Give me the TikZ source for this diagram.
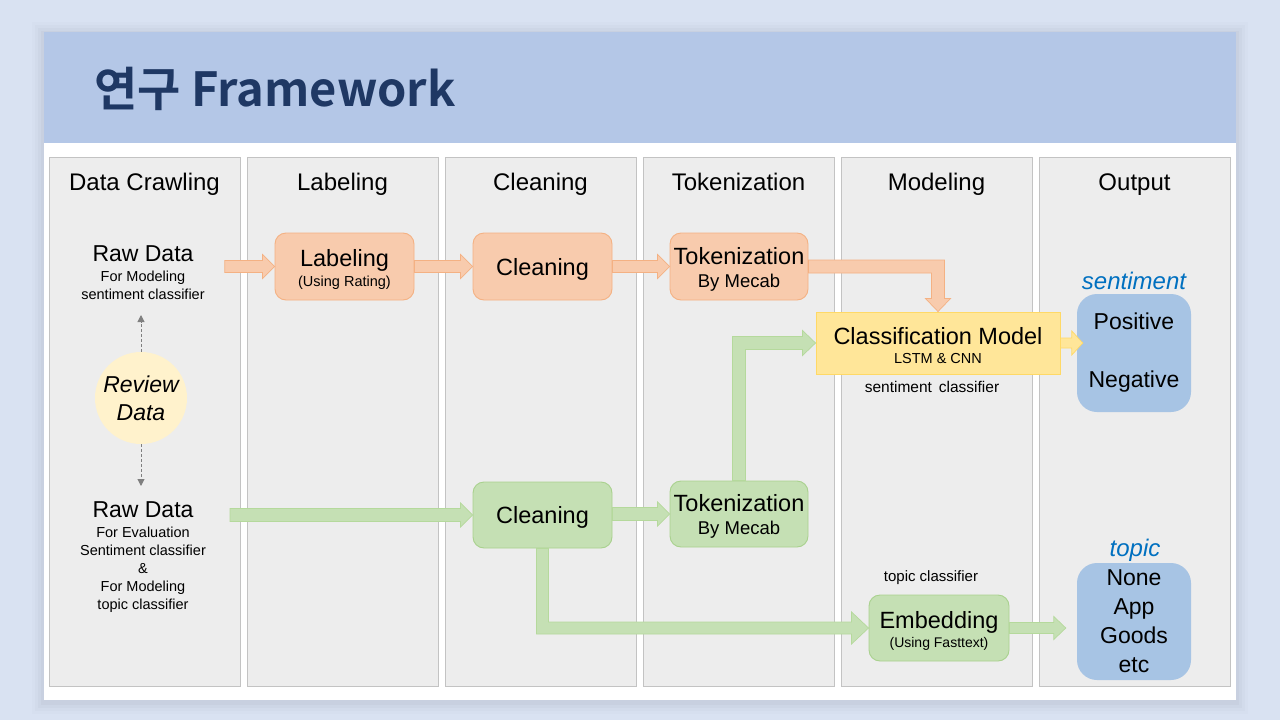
\documentclass[tikz,border=0pt]{standalone}
\usepackage{fontspec}
\setmainfont{Liberation Sans}
\newfontfamily\krfont{Noto Sans CJK KR}[BoldFont={Noto Sans CJK KR Bold}]
\usetikzlibrary{calc,arrows.meta}

\definecolor{bgblue}{HTML}{D9E2F2}
\definecolor{band}{HTML}{B4C7E7}
\definecolor{titleblue}{HTML}{1F3864}
\definecolor{panelfill}{HTML}{EDEDED}
\definecolor{panelline}{HTML}{C3C3C3}
\definecolor{orfill}{HTML}{F8CBAD}
\definecolor{orline}{HTML}{F4B183}
\definecolor{grfill}{HTML}{C5E0B4}
\definecolor{grline}{HTML}{A9D18E}
\definecolor{grarrline}{HTML}{B5D99C}
\definecolor{yefill}{HTML}{FFE699}
\definecolor{yeline}{HTML}{FFD966}
\definecolor{blfill}{HTML}{A7C4E4}
\definecolor{revfill}{HTML}{FFF2CC}
\definecolor{lblue}{HTML}{0070C0}
\definecolor{dashgray}{HTML}{7F7F7F}

% straight block arrow pointing right: style, start, tip, shaft half-width, head half-width, head length
\newcommand\blockright[6]{%
  \path[#1] let \p1=#2, \p2=#3 in
    (\x1,\y2+#4) -- (\x2-#6,\y2+#4) -- (\x2-#6,\y2+#5) -- (\x2,\y2)
    -- (\x2-#6,\y2-#5) -- (\x2-#6,\y2-#4) -- (\x1,\y2-#4) -- cycle;}

\begin{document}
\begin{tikzpicture}[x=1pt,y=-1pt,
  panel/.style={draw=panelline, fill=panelfill, line width=0.9pt},
  hdr/.style={anchor=base, font=\fontsize{24}{28}\selectfont, inner sep=0pt},
  boxtext/.style={align=center, inner sep=0pt, font=\fontsize{23.5}{20}\selectfont, yshift=-2.5pt},
  obox/.style={draw=orline, fill=orfill, rounded corners=11pt, line width=0.9pt,
    minimum width=139pt, minimum height=67pt},
  gbox/.style={draw=grline, fill=grfill, rounded corners=11pt, line width=0.9pt,
    minimum width=139pt, minimum height=66pt},
  ybox/.style={draw=yeline, fill=yefill, line width=0.9pt,
    minimum width=244pt, minimum height=62pt},
  bbox/.style={align=center, inner sep=0pt, fill=blfill, rounded corners=20pt,
    minimum width=114pt, font=\fontsize{23}{29}\selectfont},
  orarrow/.style={fill=orfill, draw=orline, line width=0.7pt},
  grarrow/.style={fill=grfill, draw=grarrline, line width=0.7pt},
  yearrow/.style={fill=yefill, draw=yeline, line width=0.7pt},
  dasharrow/.style={draw=dashgray, line width=1pt, dash pattern=on 3pt off 2pt,
    -{Triangle[width=7pt,length=7pt]}},
  small/.style={font=\fontsize{14.5}{18}\selectfont, inner sep=0pt},
]
\useasboundingbox (0,0) rectangle (1280,720);

% backdrop, soft slide shadow and slide
\fill[bgblue] (0,0) rectangle (1280,720);
\foreach \d/\o in {12/0.012,9/0.016,6/0.02,3/0.025}
  \fill[black,opacity=\o] (44-\d,32-\d+2) rectangle (1236+\d,700+\d+2);
\fill[white] (44,32) rectangle (1236,700);
\fill[band] (44,32) rectangle (1236,143);
\node[anchor=base west, inner sep=0pt, text=titleblue,
  font=\krfont\bfseries\fontsize{47}{52}\selectfont] (title) at (94,106) {연구 Framework};

% six stage columns
\foreach \i in {0,...,5}
  \draw[panel] (49+198*\i,157) rectangle (240+198*\i,686);

\node[hdr] (h1) at (144.5,190) {Data Crawling};
\node[hdr] (h2) at (342.5,190) {Labeling};
\node[hdr] (h3) at (540.5,190) {Cleaning};
\node[hdr] (h4) at (738.5,190) {Tokenization};
\node[hdr] (h5) at (936.5,190) {Modeling};
\node[hdr] (h6) at (1134.5,190) {Output};

% data crawling column
\node[small, align=center] (rd1) at (143,273)
  {{\fontsize{23}{28}\selectfont Raw Data}\\[2pt]For Modeling\\sentiment classifier};
\node[circle, fill=revfill, minimum size=92pt, inner sep=0pt, align=center,
  font=\itshape\fontsize{23}{28}\selectfont] (rev) at (141,398) {Review\\Data};
\node[small, align=center] (rd2) at (143,557)
  {{\fontsize{23}{28}\selectfont Raw Data}\\[2pt]For Evaluation\\Sentiment classifier\\\&\\For Modeling\\topic classifier};
\coordinate (upend) at (141,315);
\coordinate (dnend) at (141,486);
\draw[dasharrow] (rev.north) -- (upend);
\draw[dasharrow] (rev.south) -- (dnend);

% sentiment path (orange)
\node[obox] (lab) at (344.5,266.5) {};
\node[boxtext] (labt) at (lab) {Labeling\\{\fontsize{14.5}{20}\selectfont (Using Rating)}};
\node[obox] (cln1) at (542.5,266.5) {};
\node[boxtext] (cln1t) at (cln1) {Cleaning};
\node[obox, minimum width=138pt] (tok1) at (739,266.5) {};
\node[boxtext] (tok1t) at (tok1) {Tokenization\\[3pt]{\fontsize{18.5}{20}\selectfont By Mecab}};
\node[ybox] (cls) at (938,343) {};
\node[boxtext] (clst) at (cls) {Classification Model\\[-1pt]{\fontsize{14.5}{20}\selectfont LSTM \& CNN}};
\node[font=\fontsize{15.5}{18}\selectfont, inner sep=0pt] (sc) at (932,387) {sentiment\, classifier};

% topic path (green)
\node[gbox] (cln2) at (542.5,515) {};
\node[boxtext] (cln2t) at (cln2) {Cleaning};
\node[gbox, minimum width=138pt] (tok2) at (739,514) {};
\node[boxtext] (tok2t) at (tok2) {Tokenization\\[3pt]{\fontsize{18.5}{20}\selectfont By Mecab}};
\node[gbox, minimum width=140pt] (emb) at (939,628) {};
\node[boxtext] (embt) at (emb) {Embedding\\[-1pt]{\fontsize{14}{20}\selectfont (Using Fasttext)}};
\node[font=\fontsize{15}{18}\selectfont, inner sep=0pt] (tc) at (931,578) {topic classifier};

% outputs
\node[font=\itshape\fontsize{24}{28}\selectfont, text=lblue, inner sep=0pt] (sl) at (1134,281) {sentiment};
\node[bbox, minimum height=118pt] (pn) at (1134,353) {Positive\\[29pt]Negative};
\node[font=\itshape\fontsize{24}{28}\selectfont, text=lblue, inner sep=0pt] (tl) at (1135,550) {topic};
\node[bbox, minimum height=117pt] (tb) at (1134,621.5) {None\\App\\Goods\\etc};

% block arrows of the sentiment path
\blockright{orarrow}{([xshift=20pt]rd1.east)}{(lab.west)}{6pt}{12pt}{12pt}
\blockright{orarrow}{(lab.east)}{(cln1.west)}{6pt}{12pt}{12pt}
\blockright{orarrow}{(cln1.east)}{(tok1.west)}{6pt}{12pt}{12pt}
\path[orarrow] let \p1=(tok1.east), \p2=(cls.north) in
  (\x1,\y1+6.5pt) -- (\x2+6.5pt,\y1+6.5pt) -- (\x2+6.5pt,\y2+13pt) -- (\x2+12.5pt,\y2+13pt)
  -- (\x2,\y2) -- (\x2-12.5pt,\y2+13pt) -- (\x2-6.5pt,\y2+13pt) -- (\x2-6.5pt,\y1-6.5pt)
  -- (\x1,\y1-6.5pt) -- cycle;
\blockright{yearrow}{(cls.east)}{($(cls.east -| pn.west)+(6,0)$)}{5pt}{12pt}{11pt}

% block arrows of the topic path
\blockright{grarrow}{([xshift=24pt]rd2.east |- cln2.west)}{(cln2.west)}{6.5pt}{12pt}{12pt}
\blockright{grarrow}{(cln2.east)}{(tok2.west)}{6.5pt}{12pt}{12pt}
\path[grarrow] let \p1=(tok2.north), \p2=(cls.west) in
  (\x1-6.5pt,\y1) -- (\x1-6.5pt,\y2+6.5pt) -- (\x2-13pt,\y2+6.5pt) -- (\x2-13pt,\y2+12.5pt)
  -- (\x2,\y2) -- (\x2-13pt,\y2-12.5pt) -- (\x2-13pt,\y2-6.5pt) -- (\x1+6.5pt,\y2-6.5pt)
  -- (\x1+6.5pt,\y1) -- cycle;
\path[grarrow] let \p1=(cln2.south), \p2=(emb.west) in
  (\x1-6pt,\y1) -- (\x1-6pt,\y2-6pt) -- (\x2-17pt,\y2-6pt) -- (\x2-17pt,\y2-16pt)
  -- (\x2,\y2) -- (\x2-17pt,\y2+16pt) -- (\x2-17pt,\y2+6pt) -- (\x1+6pt,\y2+6pt)
  -- (\x1+6pt,\y1) -- cycle;
\blockright{grarrow}{(emb.east)}{($(emb.east -| tb.west)+(-11,0)$)}{5.5pt}{11.5pt}{12pt}
\end{tikzpicture}
\end{document}
